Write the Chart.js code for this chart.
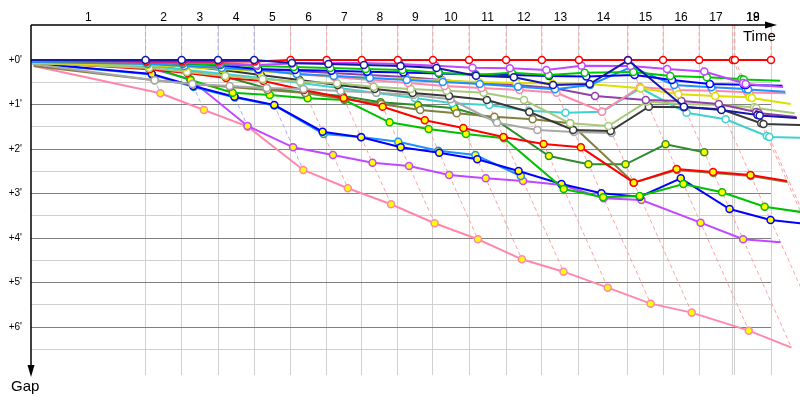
<!DOCTYPE html>
<html>
<head>
<meta charset="utf-8">
<script src="https://cdn.jsdelivr.net/npm/chart.js"></script>
<style>
  html, body { margin: 0; padding: 0; background: #fff; }
</style>
</head>
<body>
<canvas id="gapChart" width="800" height="400"></canvas>
<script>
// leader's race time at the end of each lap, in seconds (index 0 = start)
const lapTimes = [0, 346, 455, 565, 674, 784, 893, 999, 1108, 1214, 1323, 1435, 1543, 1655, 1803, 1909, 2018, 2120, 2126, 2235, 2344];
const lapLabels = ['1','2','3','4','5','6','7','8','9','10','11','12','13','14','15','16','17','18','19'];

// gap to the leader (seconds) at the end of each lap, index 0 = start
const gapRed        = [0, 2, 2, 2, 2, 0, 0, 0, 0, 0, 0, 0, 0, 0, 0, 0, 0, 0, 0, 0, 0];
const gapNavy       = [0, 0, 0, 0, 0, 4, 5.4, 6.7, 8.1, 10.8, 21.2, 23.3, 33.7, 32.4, 0.4, 63, 67.4, 74.1, 74.8, 78.2, null];
const gapViolet     = [1.3, 2.7, 3.4, 4, 6.7, 4.7, 4, 4, 5.4, 7.7, 10.4, 11.2, 13.5, 7.7, 8.1, 12.1, 15.5, 31, 32.4, 36.4, null];
const gapGreen      = [1.3, 3.4, 4.7, 6.1, 8.1, 9.4, 10.8, 12.1, 13.5, 17.1, 20.2, 17.1, 20.2, 17.1, 16.2, 21.6, 23.3, 25.6, 26.3, 27.9, null];
const gapBlue       = [0.7, 2.7, 4.7, 6.7, 12.5, 13.5, 14.4, 15.8, 16.9, 18.2, 19.5, 20.2, 21.6, 22.2, 20.2, 27, 32.4, 33.3, 33.7, 34.6, null];
const gapDodger     = [2.7, 5.4, 8.1, 10.8, 13.5, 18.9, 21.6, 24.3, 27, 29.7, 32.4, 36, 39.5, 33.7, 9.4, 33.7, 36.8, 39.1, 39.8, 42.7, null];
const gapYellow     = [4, 6.7, 9.4, 12.1, 14.8, 18.9, 21.6, 24.3, 25.6, 27.6, 29.7, 31, 31.7, 32.4, 38.1, 46.2, 48.5, 50.3, 51.2, 59.3, null];
const gapPink       = [2.7, 5.4, 8.1, 10.8, 13.5, 18.9, 22.9, 27, 31, 35, 37.7, 40.4, 44.1, 69.7, 36.4, 40.4, 41.4, 43.5, 43.8, 44.9, null];
const gapPurple     = [2.7, 5.4, 8.1, 9.4, 12.1, 14.8, 17.5, 20.2, 22.9, 27, 31.4, 33.7, 38.1, 48.5, 53.9, 55.3, 59.3, 70.1, 71.4, 76.8, null];
const gapLightOlive = [4, 10.8, 16.2, 21.6, 25.6, 29.3, 31.4, 36, 39.1, 41.4, 44.1, 53.9, 85.3, 89, 56.2, 59.3, 60.7, 63.8, 64.7, 71.8, null];
const gapBlack      = [2.7, 5.4, 8.1, 13.5, 20.2, 27, 33.7, 39.1, 44.5, 48.5, 53.9, 70.1, 94.4, 95.7, 63, 63.8, 66.5, 85.3, 86.3, 87.6, null];
const gapGray       = [5.4, 27.4, 32.4, 35, 37.7, 39.1, 41.8, 44.1, 47.2, 53, 84.5, 94.4, 97.1, 98.4, null, null, null, null, null, null, null];
const gapCyan       = [4, 8.1, 13.5, 18.9, 24.3, 31, 37.7, 44.5, 51.2, 58.4, 60.7, 68.3, 71, 69.7, 38.1, 71, 79.9, 102.4, 103.8, 105.1, null];
const gapOlive      = [8.1, 27.4, 32.4, 36.4, 40.4, 44.5, 52.6, 59.3, 67.4, 71.8, 76.4, 79.9, 85.3, 165.4, 148.3, 152.3, 156.3, 164.4, 165.8, 167.8, null];
const gapDarkGreenY = [1.3, 4.4, 14.4, 22.5, 38.1, 44.1, 48.5, 57, 60.7, 65.1, 80.9, 129.4, 140.6, 140.6, 113.6, 124.4, null, null, null, null, null];
const gapGreenY     = [2.7, 8.1, 27, 44.1, 47.2, 51.6, 53.9, 84, 93, 99.8, 105.5, 173.9, 185.1, 183.3, 167.2, 178.3, 197.8, 204.9, 206.2, 213, null];
const gapRedY       = [2.7, 12.5, 17.5, 24.3, 28.3, 40.4, 51.2, 63, 81.3, 91.7, 103.8, 113.2, 117.7, 165.4, 146.9, 151, 155, 163.1, 164.5, 167.2, null];
const gapBlueY      = [4, 18.9, 35, 49.5, 60.7, 96.7, 104.2, 117.7, 125, 133.9, 149.6, 167.2, 179.7, 184.3, 159.5, 200.9, 215.7, 221.1, 222.4, 229.2, null];
const gapDodgerY    = [4.7, 19.5, 36.4, 50.6, 61.3, 99.8, 103.8, 110.1, 122.3, 128.1, 156.4, null, null, null, null, null, null, null, null, null, null];
const gapVioletY    = [2.7, 10.8, 26, 89, 117.7, 128.1, 138.4, 142.9, 155, 159.5, 163.1, 168.5, 186.4, 188.7, 219.3, 241.7, 245.7, 249.4, 250.7, 256.1, null];
const gapPinkY      = [8.1, 44.9, 67.4, 89.9, 148.3, 172.9, 194.5, 220.1, 241.7, 268.7, 285.4, 306.9, 328.5, 340.6, 364.9, 387.8, 401.7, null, null, null, null];

const GAP_MIN = -47.2, GAP_MAX = 424.7, TIME_MAX = 2235;
const WHITE = '#ffffff', YELLOW = '#ffff00';

const series = [
  { name: 'navy',        color: '#1818a8', fill: WHITE,  gaps: gapNavy },
  { name: 'red',         color: '#ff0000', fill: WHITE,  gaps: gapRed },
  { name: 'violet',      color: '#c048ff', fill: WHITE,  gaps: gapViolet },
  { name: 'green',       color: '#00c800', fill: WHITE,  gaps: gapGreen },
  { name: 'blue',        color: '#0000ff', fill: WHITE,  gaps: gapBlue },
  { name: 'dodger',      color: '#1e90ff', fill: WHITE,  gaps: gapDodger },
  { name: 'yellow',      color: '#dede00', fill: WHITE,  gaps: gapYellow },
  { name: 'pink',        color: '#ff88aa', fill: WHITE,  gaps: gapPink },
  { name: 'purple',      color: '#9040a8', fill: WHITE,  gaps: gapPurple },
  { name: 'lightolive',  color: '#a8c878', fill: WHITE,  gaps: gapLightOlive },
  { name: 'black',       color: '#383838', fill: WHITE,  gaps: gapBlack },
  { name: 'gray',        color: '#a8a8a8', fill: WHITE,  gaps: gapGray },
  { name: 'cyan',        color: '#40d0d0', fill: WHITE,  gaps: gapCyan },
  { name: 'redY',        color: '#ff0000', fill: YELLOW, gaps: gapRedY },
  { name: 'olive',       color: '#808040', fill: WHITE,  gaps: gapOlive },
  { name: 'darkgreenY',  color: '#2e8b2e', fill: YELLOW, gaps: gapDarkGreenY },
  { name: 'greenY',      color: '#00c000', fill: YELLOW, gaps: gapGreenY },
  { name: 'blueY',       color: '#0000ff', fill: YELLOW, gaps: gapBlueY },
  { name: 'dodgerY',     color: '#1e90ff', fill: YELLOW, gaps: gapDodgerY },
  { name: 'violetY',     color: '#c048ff', fill: YELLOW, gaps: gapVioletY },
  { name: 'pinkY',       color: '#ff88aa', fill: YELLOW, gaps: gapPinkY }
];

// a car's point for lap i sits at leader time + its own gap
function toPoints(gaps) {
  const pts = [];
  gaps.forEach((g, i) => {
    if (g !== null) pts.push({ x: lapTimes[i] + g, y: g, lap: i });
  });
  return pts;
}

const overflowRight = { left: 0, top: 0, right: 40, bottom: 0 };

const datasets = series.map(s => ({
  label: s.name,
  data: toPoints(s.gaps),
  borderColor: s.color,
  borderWidth: 2,
  pointBackgroundColor: s.fill,
  pointBorderColor: s.color,
  pointBorderWidth: 1.5,
  pointRadius: ctx => (ctx.raw && ctx.raw.lap === 0) ? 0 : 3.5,
  tension: 0,
  clip: overflowRight,
  order: 1
}));

// dashed lap lines: down from the time axis, then along gap = time - lap time,
// ending at the last car seen on that lap
lapTimes.slice(1, 20).forEach((t, i) => {
  const lap = i + 1;
  let last = 0;
  series.forEach(s => { if (s.gaps[lap] !== null && s.gaps[lap] > last) last = s.gaps[lap]; });
  datasets.push({
    label: 'lap' + lap,
    data: [{ x: t, y: GAP_MIN }, { x: t, y: 0 }, { x: t + last, y: last }],
    borderColor: i < 4 ? '#a8a8ff' : '#ffa0a0',
    borderWidth: 1,
    borderDash: [4, 3],
    pointRadius: 0,
    tension: 0,
    clip: overflowRight,
    order: 10
  });
});

const gapAxes = {
  id: 'gapAxes',
  afterDraw(chart) {
    const { ctx, chartArea: a, scales: { x, y } } = chart;
    ctx.save();
    ctx.strokeStyle = '#000';
    ctx.fillStyle = '#000';
    ctx.lineWidth = 1.5;

    // time axis with arrow
    ctx.beginPath();
    ctx.moveTo(a.left, a.top);
    ctx.lineTo(a.right - 4, a.top);
    ctx.stroke();
    ctx.beginPath();
    ctx.moveTo(a.right + 6, a.top);
    ctx.lineTo(a.right - 6, a.top - 3.5);
    ctx.lineTo(a.right - 6, a.top + 3.5);
    ctx.closePath();
    ctx.fill();

    // gap axis with arrow
    ctx.beginPath();
    ctx.moveTo(a.left, a.top);
    ctx.lineTo(a.left, a.bottom - 8);
    ctx.stroke();
    ctx.beginPath();
    ctx.moveTo(a.left, a.bottom + 2);
    ctx.lineTo(a.left - 3.5, a.bottom - 10);
    ctx.lineTo(a.left + 3.5, a.bottom - 10);
    ctx.closePath();
    ctx.fill();

    ctx.font = '15px "Liberation Sans", Arial, sans-serif';
    ctx.textAlign = 'left';
    ctx.textBaseline = 'alphabetic';
    ctx.fillText('Time', a.right - 28, a.top + 16);
    ctx.fillText('Gap', a.left - 20, a.bottom + 16);

    // lap numbers centred on each lap
    ctx.font = '12px "Liberation Sans", Arial, sans-serif';
    ctx.textAlign = 'center';
    ctx.textBaseline = 'middle';
    lapLabels.forEach((lab, i) => {
      let lo = lapTimes[i], hi = lapTimes[i + 1];
      if (hi - lo < 20 && i + 2 < lapTimes.length) { lo = lapTimes[i + 1]; hi = lapTimes[i + 2]; }
      ctx.fillText(lab, x.getPixelForValue((lo + hi) / 2), a.top - 7);
    });

    // gap ticks in minutes
    ctx.font = '10px "Liberation Sans", Arial, sans-serif';
    ctx.textAlign = 'right';
    for (let v = 0; v <= 360; v += 60) {
      ctx.fillText('+' + (v / 60) + "'", a.left - 9, y.getPixelForValue(v));
    }
    ctx.restore();
  }
};

new Chart(document.getElementById('gapChart'), {
  type: 'line',
  data: { datasets },
  options: {
    responsive: false,
    animation: false,
    events: [],
    layout: { padding: { left: 31, right: 29, top: 25, bottom: 25 } },
    plugins: { legend: { display: false }, tooltip: { enabled: false } },
    scales: {
      x: {
        type: 'linear',
        position: 'top',
        min: 0,
        max: TIME_MAX,
        afterBuildTicks: s => { s.ticks = lapTimes.slice(1, 20).map(v => ({ value: v })); },
        ticks: { display: false },
        grid: { color: '#d0d0d0', lineWidth: 1, drawTicks: false },
        border: { display: false }
      },
      y: {
        type: 'linear',
        reverse: true,
        min: GAP_MIN,
        max: GAP_MAX,
        afterBuildTicks: s => {
          const t = [];
          for (let v = 0; v <= 390; v += 30) t.push({ value: v });
          s.ticks = t;
        },
        ticks: { display: false },
        grid: {
          color: c => (c.tick && c.tick.value % 60 === 0) ? '#808080' : '#d0d0d0',
          lineWidth: 1,
          drawTicks: false
        },
        border: { display: false }
      }
    }
  },
  plugins: [gapAxes]
});
</script>
</body>
</html>
